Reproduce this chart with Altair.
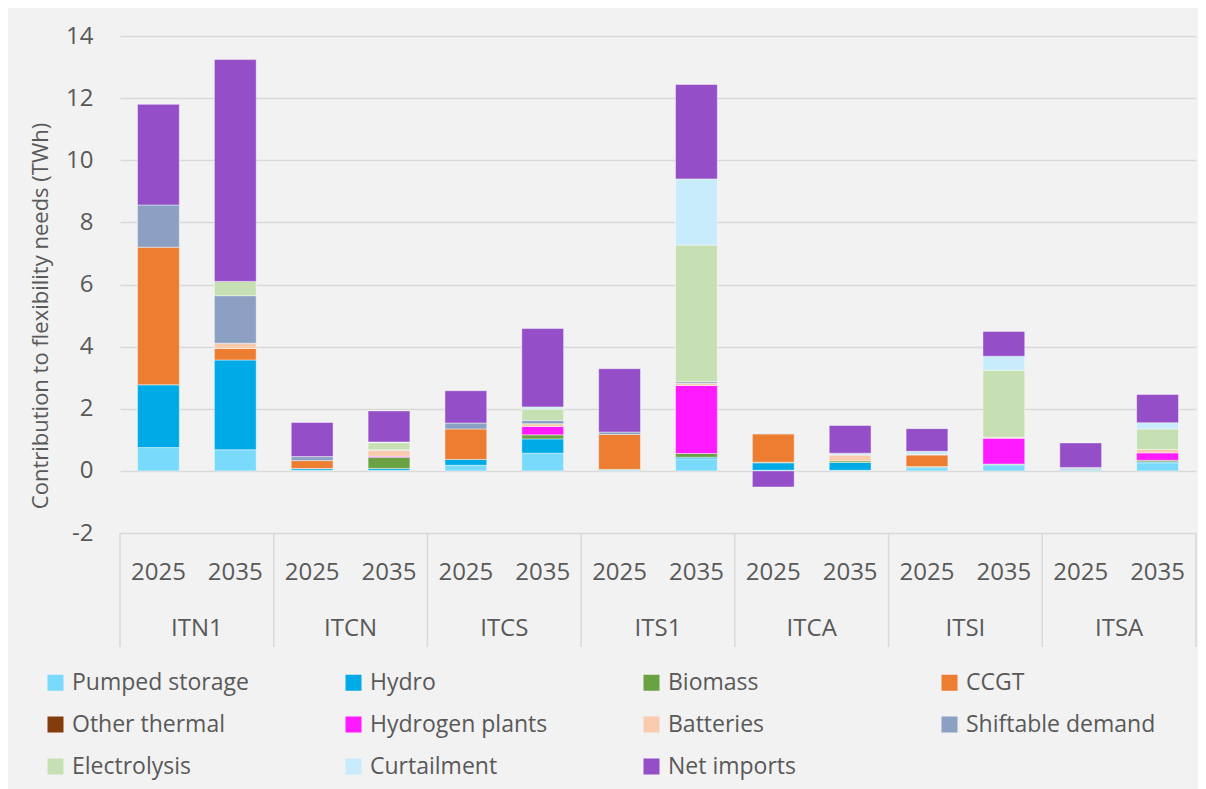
import altair as alt
import pandas as pd

FONT = "Open Sans"
TXT = "#595959"
GRID = "#d9d9d9"

regions = ["ITN1", "ITCN", "ITCS", "ITS1", "ITCA", "ITSI", "ITSA"]
years = ["2025", "2035"]

series = ["Pumped storage", "Hydro", "Biomass", "CCGT", "Other thermal",
          "Hydrogen plants", "Batteries", "Shiftable demand", "Electrolysis",
          "Curtailment", "Net imports"]
colors = ["#79dafb", "#00aae6", "#6aa243", "#ed7d31", "#843c0c",
          "#ff1aff", "#f8cbad", "#8ba0c2", "#c6e0b4", "#c8ecfb", "#934ec8"]

# order of columns: ITN1 2025, ITN1 2035, ITCN 2025, ITCN 2035, ... ITSA 2035
pumped_storage = [0.75, 0.68, 0.02, 0.02, 0.18, 0.57, 0.01, 0.39, 0.02, 0.02, 0.10, 0.17, 0.02, 0.26]
hydro          = [2.02, 2.89, 0.05, 0.06, 0.19, 0.46, 0.02, 0.05, 0.24, 0.25, 0.02, 0.04, 0.03, 0.03]
biomass        = [0.00, 0.00, 0.01, 0.36, 0.00, 0.13, 0.02, 0.12, 0.02, 0.05, 0.02, 0.01, 0.00, 0.05]
ccgt           = [4.43, 0.37, 0.25, 0.00, 0.98, 0.00, 1.12, 0.00, 0.91, 0.00, 0.37, 0.00, 0.00, 0.00]
other_thermal  = [0.00, 0.00, 0.00, 0.00, 0.00, 0.00, 0.00, 0.00, 0.00, 0.00, 0.00, 0.00, 0.00, 0.00]
hydrogen       = [0.00, 0.00, 0.00, 0.03, 0.00, 0.27, 0.00, 2.19, 0.00, 0.00, 0.00, 0.83, 0.00, 0.24]
batteries      = [0.00, 0.17, 0.00, 0.19, 0.00, 0.09, 0.00, 0.07, 0.00, 0.19, 0.00, 0.03, 0.03, 0.11]
shiftable      = [1.36, 1.53, 0.13, 0.02, 0.19, 0.10, 0.08, 0.05, 0.02, 0.00, 0.02, 0.00, 0.03, 0.00]
electrolysis   = [0.00, 0.46, 0.00, 0.23, 0.00, 0.37, 0.00, 4.40, 0.00, 0.00, 0.00, 2.16, 0.00, 0.66]
curtailment    = [0.00, 0.00, 0.00, 0.02, 0.00, 0.07, 0.00, 2.13, 0.01, 0.06, 0.10, 0.45, 0.00, 0.20]
net_imports    = [3.24, 7.14, 1.10, 1.00, 1.04, 2.52, 2.04, 3.04, -0.52, 0.89, 0.73, 0.80, 0.79, 0.91]

values = [pumped_storage, hydro, biomass, ccgt, other_thermal, hydrogen,
          batteries, shiftable, electrolysis, curtailment, net_imports]

keys = [f"{r}|{y}" for r in regions for y in years]

rows = []
for si, (name, vals) in enumerate(zip(series, values)):
    for ci, v in enumerate(vals):
        if v != 0:
            rows.append({"key": keys[ci], "series": name, "ord": si, "value": v})
df = pd.DataFrame(rows)

W, H = 1076, 497

bars = alt.Chart(df).mark_bar(stroke="#ffffff", strokeWidth=0.8, strokeOpacity=0.55).encode(
    x=alt.X("key:N", sort=keys,
            scale=alt.Scale(domain=keys, paddingInner=0.456, paddingOuter=0.228),
            axis=alt.Axis(title=None, labelExpr="split(datum.label, '|')[1]", labelAngle=0,
                          ticks=False, tickSize=0, domain=False, grid=False, labelPadding=27,
                          labelFontSize=24, labelColor=TXT, labelFont=FONT)),
    y=alt.Y("value:Q", stack="zero",
            scale=alt.Scale(domain=[-2, 14], nice=False),
            axis=alt.Axis(values=list(range(-2, 15, 2)),
                          labelExpr="toString(datum.value)",
                          title="Contribution to flexibility needs (TWh)",
                          titleFont=FONT, titleFontSize=22, titleFontWeight="normal",
                          titleColor=TXT, titleX=-80, titleY=H / 2 + 31, titleAngle=270,
                          titleAlign="center", titleBaseline="middle",
                          labelFont=FONT, labelFontSize=24, labelColor=TXT, labelPadding=27,
                          ticks=False, tickSize=0, domain=False,
                          grid=True, gridColor=GRID, gridWidth=1.5)),
    color=alt.Color("series:N",
                    scale=alt.Scale(domain=series, range=colors),
                    legend=alt.Legend(title=None, orient="none", legendX=-76, legendY=635,
                                      direction="horizontal", columns=4,
                                      symbolType="square", symbolSize=256, symbolStrokeWidth=0,
                                      labelFont=FONT, labelFontSize=23, labelColor=TXT,
                                      labelOffset=5, labelLimit=400,
                                      gridAlign="all", columnPadding=80, rowPadding=18)),
    order=alt.Order("ord:Q", sort="ascending"),
)

pos_scale = alt.Scale(domain=[0, len(regions)], nice=False, zero=False)

sep_df = pd.DataFrame({"pos": list(range(len(regions) + 1))})
seps = alt.Chart(sep_df).mark_rule(color=GRID, strokeWidth=1.5).encode(
    x=alt.X("pos:Q", scale=pos_scale, axis=None),
    y=alt.value(H),
    y2=alt.value(H + 114),
)

reg_df = pd.DataFrame({"region": regions, "pos": [i + 0.5 for i in range(len(regions))]})
reg_labels = alt.Chart(reg_df).mark_text(font=FONT, fontSize=24, color=TXT, baseline="middle").encode(
    x=alt.X("pos:Q", scale=pos_scale, axis=None),
    y=alt.value(H + 96),
    text="region:N",
)

chart = alt.layer(bars, seps, reg_labels).resolve_scale(x="independent").properties(
    width=W, height=H,
    background="#f2f2f2",
    autosize=alt.AutoSizeParams(type="none"),
    padding={"left": 112, "top": 28, "right": 2, "bottom": 256},
).configure_view(stroke=None)

chart.save("out.html", embed_options={"renderer": "svg", "actions": False})
